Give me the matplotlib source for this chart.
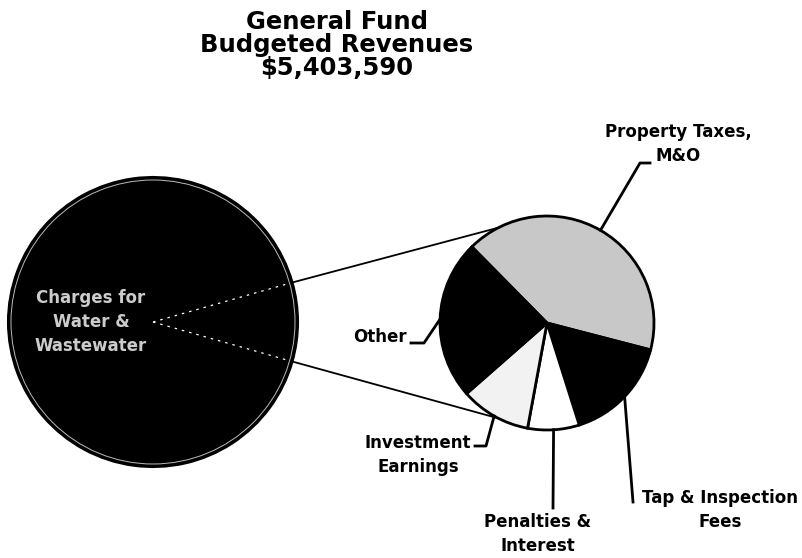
import matplotlib.pyplot as plt
import numpy as np

plt.rcParams['font.family'] = ['DejaVu Sans']

# data (dollar amounts)
title = 'General Fund\nBudgeted Revenues\n$5,403,590'
main_label = 'Charges for\nWater &\nWastewater'
main_value = 4928090
detail_labels = ['Property Taxes,\nM&O', 'Tap & Inspection\nFees',
                 'Penalties &\nInterest', 'Investment\nEarnings', 'Other']
detail_values = [197000, 76500, 37000, 50500, 114500]
detail_colors = ['#c8c8c8', 'black', 'white', '#f2f2f2', 'black']

W, H = 803, 558


def py(y):
    """Pixel row (from top) to data y."""
    return H - y


def edge_point(center, r, ang):
    a = np.deg2rad(ang)
    return center[0] + r * np.cos(a), center[1] + r * np.sin(a)


fig = plt.figure(figsize=(W / 100, H / 100), dpi=100)
ax = fig.add_axes([0, 0, 1, 1])

# big pie
group = sum(detail_values)
span = 360 * group / (group + main_value)
big_c = (153, py(322))
big_r = 145
ax.pie([group, main_value], center=big_c, radius=big_r, startangle=-span / 2,
       colors=['black', 'black'], wedgeprops=dict(edgecolor='black', linewidth=1.5))
ax.add_patch(plt.Circle(big_c, big_r - 3, fill=False, edgecolor='#bbbbbb', lw=0.7))
for ang in (span / 2, -span / 2):
    x, y = edge_point(big_c, big_r - 3, ang)
    ax.plot([big_c[0], x], [big_c[1], y], color='white', lw=0.9, ls=(0, (2, 4)))
ax.text(91, py(322), main_label, ha='center', va='center', color='#cccccc',
        fontsize=12, fontweight='bold', linespacing=1.45)

# small pie
small_c = (547, py(323))
small_r = 107
wedges, _ = ax.pie(detail_values, center=small_c, radius=small_r, startangle=134.6,
                   counterclock=False, colors=detail_colors,
                   wedgeprops=dict(edgecolor='black', linewidth=2))

# connector lines between the pies
conn = 117
for sgn in (1, -1):
    x0, y0 = edge_point(big_c, big_r, sgn * span / 2)
    x1, y1 = edge_point(small_c, small_r, sgn * conn)
    ax.plot([x0, x1], [y0, y1], color='black', lw=1.3)

# labels with leader lines
leaders = [
    [(640, 163), (650, 163)],
    [(633, 502)],
    [(553, 508)],
    [(486, 446), (475, 446)],
    [(424, 343), (411, 343)],
]
text_pos = [(678, 144), (720, 510), (538, 534), (418, 455), (380, 337)]
for w, lab, pts, tp in zip(wedges, detail_labels, leaders, text_pos):
    mid = (w.theta1 + w.theta2) / 2
    x0, y0 = edge_point(small_c, small_r, mid)
    xs = [x0] + [p[0] for p in pts]
    ys = [y0] + [py(p[1]) for p in pts]
    ax.plot(xs, ys, color='black', lw=2)
    ax.text(tp[0], py(tp[1]), lab, ha='center', va='center', fontsize=12,
            fontweight='bold', linespacing=1.4)

ax.text(337, py(45), title, ha='center', va='center', fontsize=17.5,
        fontweight='bold', linespacing=0.97)

ax.set_xlim(0, W)
ax.set_ylim(0, H)
ax.set_aspect('auto')
ax.axis('off')

fig.savefig('out.png', dpi=100)
